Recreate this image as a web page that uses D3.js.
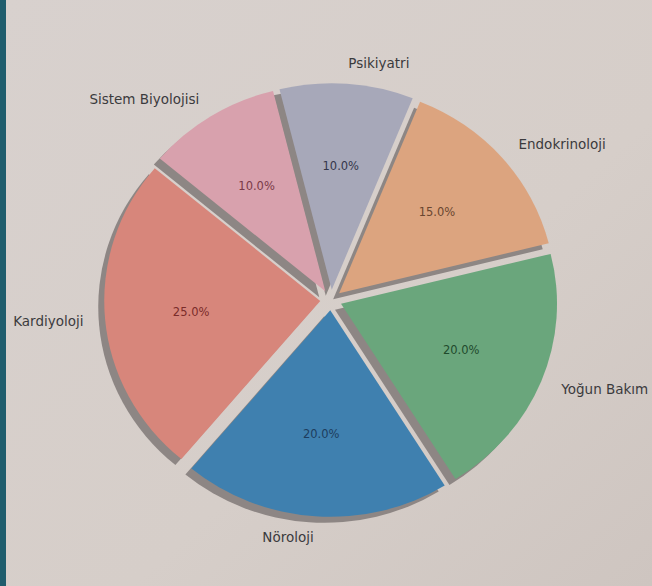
<!DOCTYPE html>
<html>
<head>
<meta charset="utf-8">
<script src="https://cdn.jsdelivr.net/npm/d3@7"></script>
<style>
  html, body { margin: 0; padding: 0; background: #d5cdc9; }
  svg { display: block; }
</style>
</head>
<body>
<svg id="chart" width="652" height="586"></svg>
<script>
// ---- data ----
const categories = ["Kardiyoloji", "Nöroloji", "Yoğun Bakım", "Endokrinoloji", "Psikiyatri", "Sistem Biyolojisi"];
const values = [25, 20, 20, 15, 10, 10];
const colors = ["#d7867b", "#3f80af", "#6aa67c", "#dca47f", "#a7a8b9", "#d8a1ad"];
const pctColors = ["#7a2c2a", "#1d3d5e", "#1f4a2c", "#6a4630", "#34364a", "#7a3a48"];
const startAngleDeg = 140; // matplotlib-style start angle (ccw from 3 o'clock)

// ---- layout ----
const W = 652, H = 586;
const cx = 331, cy = 300;
const r = 216;
const explode = 0.05 * r;
const sy = 0.956; // slight vertical squash seen in the photographed print
const shadowDx = -6, shadowDy = 6;

const svg = d3.select("#chart");

// background
const defs = svg.append("defs");
const grad = defs.append("linearGradient").attr("id", "bg").attr("x1", 0).attr("y1", 0).attr("x2", 1).attr("y2", 1);
grad.append("stop").attr("offset", "0%").attr("stop-color", "#d8d1ce");
grad.append("stop").attr("offset", "60%").attr("stop-color", "#d6cec9");
grad.append("stop").attr("offset", "100%").attr("stop-color", "#cec5c0");
svg.append("rect").attr("width", W).attr("height", H).attr("fill", "url(#bg)");
svg.append("rect").attr("x", 0).attr("y", 0).attr("width", 6).attr("height", H).attr("fill", "#1f5d6d");

// pie (counterclockwise from startAngle, like matplotlib)
const a0 = (90 - startAngleDeg) * Math.PI / 180;
const pie = d3.pie().sort(null).value(d => d)
  .startAngle(a0).endAngle(a0 - 2 * Math.PI);
const arcs = pie(values);
const arc = d3.arc().innerRadius(0).outerRadius(r);

function mid(d) { return (d.startAngle + d.endAngle) / 2; }
function dir(d) { const m = mid(d); return [Math.sin(m), -Math.cos(m)]; }

const g = svg.append("g").attr("transform", `translate(${cx},${cy}) scale(1,${sy})`);

// shadows
g.append("g").selectAll("path").data(arcs).join("path")
  .attr("d", arc)
  .attr("fill", "#8d8684")
  .attr("transform", d => {
    const [ux, uy] = dir(d);
    return `translate(${ux * explode + shadowDx},${uy * explode + shadowDy / sy})`;
  });

// wedges
g.append("g").selectAll("path").data(arcs).join("path")
  .attr("d", arc)
  .attr("fill", (d, i) => colors[i])
  .attr("transform", d => {
    const [ux, uy] = dir(d);
    return `translate(${ux * explode},${uy * explode})`;
  });

// percentage labels
const total = d3.sum(values);
svg.append("g").selectAll("text").data(arcs).join("text")
  .attr("x", d => cx + dir(d)[0] * (explode + 0.6 * r))
  .attr("y", d => cy + dir(d)[1] * (explode + 0.6 * r) * sy)
  .attr("text-anchor", "middle")
  .attr("dominant-baseline", "central")
  .attr("font-family", "DejaVu Sans, sans-serif")
  .attr("font-size", 11.5)
  .attr("fill", (d, i) => pctColors[i])
  .text(d => (d.value / total * 100).toFixed(1) + "%");

// category labels
svg.append("g").selectAll("text").data(arcs).join("text")
  .attr("x", d => cx + dir(d)[0] * (explode + 1.1 * r))
  .attr("y", d => cy + dir(d)[1] * (explode + 1.1 * r) * sy)
  .attr("text-anchor", d => dir(d)[0] > 0 ? "start" : "end")
  .attr("dominant-baseline", "central")
  .attr("font-family", "DejaVu Sans, sans-serif")
  .attr("font-size", 13.5)
  .attr("fill", "#3b3b3d")
  .text((d, i) => categories[i]);
</script>
</body>
</html>
